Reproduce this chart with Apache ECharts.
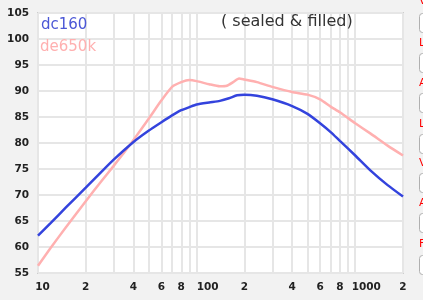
<!DOCTYPE html>
<html>
<head>
<meta charset="utf-8">
<script src="https://cdn.jsdelivr.net/npm/echarts@6/dist/echarts.min.js"></script>
<style>
html,body{margin:0;padding:0;background:#f2f2f2;}
#c{width:423px;height:300px;}
</style>
</head>
<body>
<div id="c"></div>
<script>
// ---- data ----
var dc160Freq = [10, 12, 15, 20, 25, 30, 40, 50, 60, 70, 80, 90, 100, 120, 140, 160, 180, 200, 240, 300, 400, 500, 600, 700, 800, 1000, 1250, 1600, 2000];
var dc160Spl  = [62.2, 64.6, 67.6, 71.4, 74.4, 76.8, 80.2, 82.4, 84.0, 85.3, 86.3, 86.9, 87.4, 87.8, 88.1, 88.6, 89.2, 89.3, 89.1, 88.4, 87.1, 85.6, 83.8, 82.1, 80.4, 77.6, 74.7, 71.9, 69.7];
var de650kFreq = [10, 12, 15, 20, 25, 30, 35, 40, 50, 60, 70, 80, 90, 100, 120, 140, 155, 170, 185, 200, 240, 300, 400, 500, 600, 700, 800, 1000, 1250, 1600, 2000];
var de650kSpl  = [56.4, 59.8, 63.8, 68.8, 72.6, 75.6, 78.2, 80.6, 84.7, 88.2, 90.8, 91.7, 92.1, 91.9, 91.3, 90.9, 91.0, 91.7, 92.4, 92.2, 91.7, 90.8, 89.8, 89.3, 88.4, 87.0, 85.9, 83.8, 81.8, 79.5, 77.6];
var xGridValues = [10, 20, 30, 40, 50, 60, 70, 80, 90, 100, 200, 300, 400, 500, 600, 700, 800, 900, 1000, 2000];
var xLabelValues = [10, 20, 40, 60, 80, 100, 200, 400, 600, 800, 1000, 2000];
var xLabelTexts  = ['10', '2', '4', '6', '8', '100', '2', '4', '6', '8', '1000', '2'];
var seriesNames = ['dc160', 'de650k'];
var noteText = '( sealed & filled)';
var sideLetters = ['V', 'L', 'A', 'L', 'V', 'A', 'F'];

function pairs(xs, ys){ return xs.map(function(x,i){ return [x, ys[i]]; }); }

function labelFor(v){
  var best = 0, bd = Infinity;
  for (var i = 0; i < xLabelValues.length; i++){
    var d = Math.abs(Math.log(v) - Math.log(xLabelValues[i]));
    if (d < bd){ bd = d; best = i; }
  }
  var t = xLabelTexts[best];
  if (t.length === 2) return '{p2|' + t + '}';
  if (t.length >= 3) return '{p3|' + t + '}';
  return t;
}

var chart = echarts.init(document.getElementById('c'), null, {renderer:'canvas'});
var labelFont = {fontFamily:'"DejaVu Sans", sans-serif', fontWeight:'bold', fontSize:10.5, color:'#222'};

var graphics = [
  {type:'text', left:41, top:18, style:{text:seriesNames[0], fill:'#4b57d6', font:'15px "DejaVu Sans", sans-serif'}, z:10},
  {type:'text', left:40, top:40, style:{text:seriesNames[1], fill:'#ffb0b0', font:'15px "DejaVu Sans", sans-serif'}, z:10},
  {type:'text', left:221, top:14, style:{text:noteText, fill:'#333', font:'16px "DejaVu Sans", sans-serif'}, z:10}
];
var letterTops = [-4, 38, 78, 119, 158, 198, 239];
var boxTops = [13, 53, 93, 134, 173, 213, 255];
sideLetters.forEach(function(ch, i){
  graphics.push({type:'text', left:419, top:letterTops[i], style:{text:ch, fill:'#ff0000', font:'11px "DejaVu Sans", sans-serif'}});
});
boxTops.forEach(function(t){
  graphics.push({type:'rect', shape:{x:419.5, y:t+0.5, width:20, height:19, r:3}, style:{fill:'#fff', stroke:'#b0b0b0', lineWidth:1}});
});

chart.setOption({
  backgroundColor:'#f2f2f2',
  animation:false,
  grid:{left:38, right:20, top:13, bottom:27, show:true, backgroundColor:'#fff', borderColor:'#cdcdcd', borderWidth:2},
  xAxis:{
    type:'log', logBase:10, min:10, max:2000,
    axisLine:{show:false},
    axisTick:{show:false, customValues:xGridValues},
    splitLine:{show:true, lineStyle:{color:'#e6e6e6', width:2}},
    minorSplitLine:{show:false},
    axisLabel:Object.assign({customValues:xLabelValues, margin:9, formatter:labelFor,
      rich:{p2:Object.assign({padding:[0,0,0,9]}, labelFont), p3:Object.assign({padding:[0,0,0,22]}, labelFont)}}, labelFont)
  },
  yAxis:{
    type:'value', min:55, max:105, interval:5,
    axisLine:{show:false}, axisTick:{show:false},
    splitLine:{show:true, lineStyle:{color:'#e6e6e6', width:2}},
    axisLabel:Object.assign({margin:9}, labelFont)
  },
  series:[
    {name:seriesNames[1], type:'line', data:pairs(de650kFreq, de650kSpl), smooth:0.2, symbol:'none',
     lineStyle:{color:'#ffb0b0', width:2.5}, z:2},
    {name:seriesNames[0], type:'line', data:pairs(dc160Freq, dc160Spl), smooth:0.2, symbol:'none',
     lineStyle:{color:'#3343dd', width:2.5}, z:3}
  ],
  graphic:graphics
});
</script>
</body>
</html>
